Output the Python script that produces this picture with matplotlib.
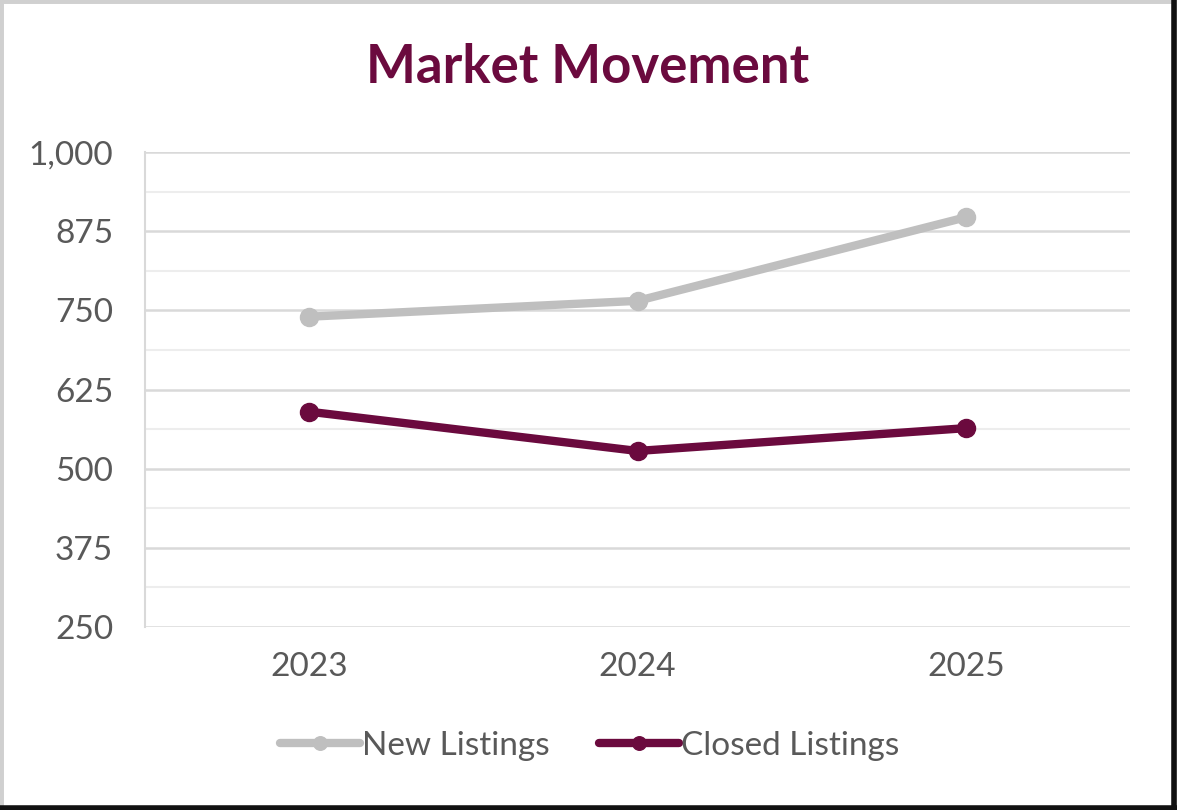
import matplotlib
matplotlib.use("Agg")
import matplotlib.pyplot as plt
from matplotlib.patches import Rectangle
from matplotlib.lines import Line2D
from matplotlib.ticker import MultipleLocator, FuncFormatter

years = ["2023", "2024", "2025"]
new_listings = [740, 765, 897]
closed_listings = [590, 528, 564]
series_names = ["New Listings", "Closed Listings"]

GRAY = "#BFBFBF"
MAROON = "#6B0A3E"
TEXT = "#595959"

plt.rcParams['font.family'] = ['Lato', 'DejaVu Sans']

fig = plt.figure(figsize=(11.77, 8.10), dpi=100)
# border
fig.patches.append(Rectangle((0, 0), 1, 1, transform=fig.transFigure, fill=False,
                             edgecolor="#D0D0D0", linewidth=5, zorder=0))
fig.add_artist(Line2D([0.9975, 0.9975], [0, 1], transform=fig.transFigure, color="#111111", linewidth=4))
fig.add_artist(Line2D([0, 1], [0.003, 0.003], transform=fig.transFigure, color="#111111", linewidth=4))

ax = fig.add_axes([0.1232, 0.2259, 0.9601 - 0.1232, 0.8123 - 0.2259])
x = list(range(len(years)))
ax.plot(x, new_listings, color=GRAY, linewidth=6, marker="o", markersize=13,
        solid_capstyle="round", label=series_names[0], zorder=3)
ax.plot(x, closed_listings, color=MAROON, linewidth=6, marker="o", markersize=13,
        solid_capstyle="round", label=series_names[1], zorder=3)

ax.set_xlim(-0.5, 2.5)
ax.set_ylim(250, 1000)
ax.set_xticks(x)
ax.set_xticklabels(years)
ax.yaxis.set_major_locator(MultipleLocator(125))
ax.yaxis.set_minor_locator(MultipleLocator(62.5))
ax.yaxis.set_major_formatter(FuncFormatter(lambda v, p: f"{int(v):,}"))
ax.grid(axis="y", which="major", color="#D9D9D9", linewidth=1.8)
ax.grid(axis="y", which="minor", color="#EDEDED", linewidth=1.5)
ax.set_axisbelow(True)
for s in ["top", "right", "bottom"]:
    ax.spines[s].set_visible(False)
ax.spines["left"].set_color("#D9D9D9")
ax.spines["left"].set_linewidth(1.5)
ax.tick_params(axis="both", which="both", length=0, labelsize=24, labelcolor=TEXT)
ax.tick_params(axis="y", pad=23)
ax.tick_params(axis="x", pad=18)

fig.text(0.499, 0.917, "Market Movement", ha="center", va="center", fontsize=38,
         fontweight="bold", color=MAROON)

leg = fig.legend(loc="center", bbox_to_anchor=(0.501, 0.079), ncol=2, frameon=False,
                 fontsize=24, handlelength=2.4, handletextpad=0.05, columnspacing=1.5,
                 labelcolor=TEXT, markerscale=0.75)
for h in leg.legend_handles:
    h.set_solid_capstyle("round")

fig.savefig("out.png", dpi=100)
